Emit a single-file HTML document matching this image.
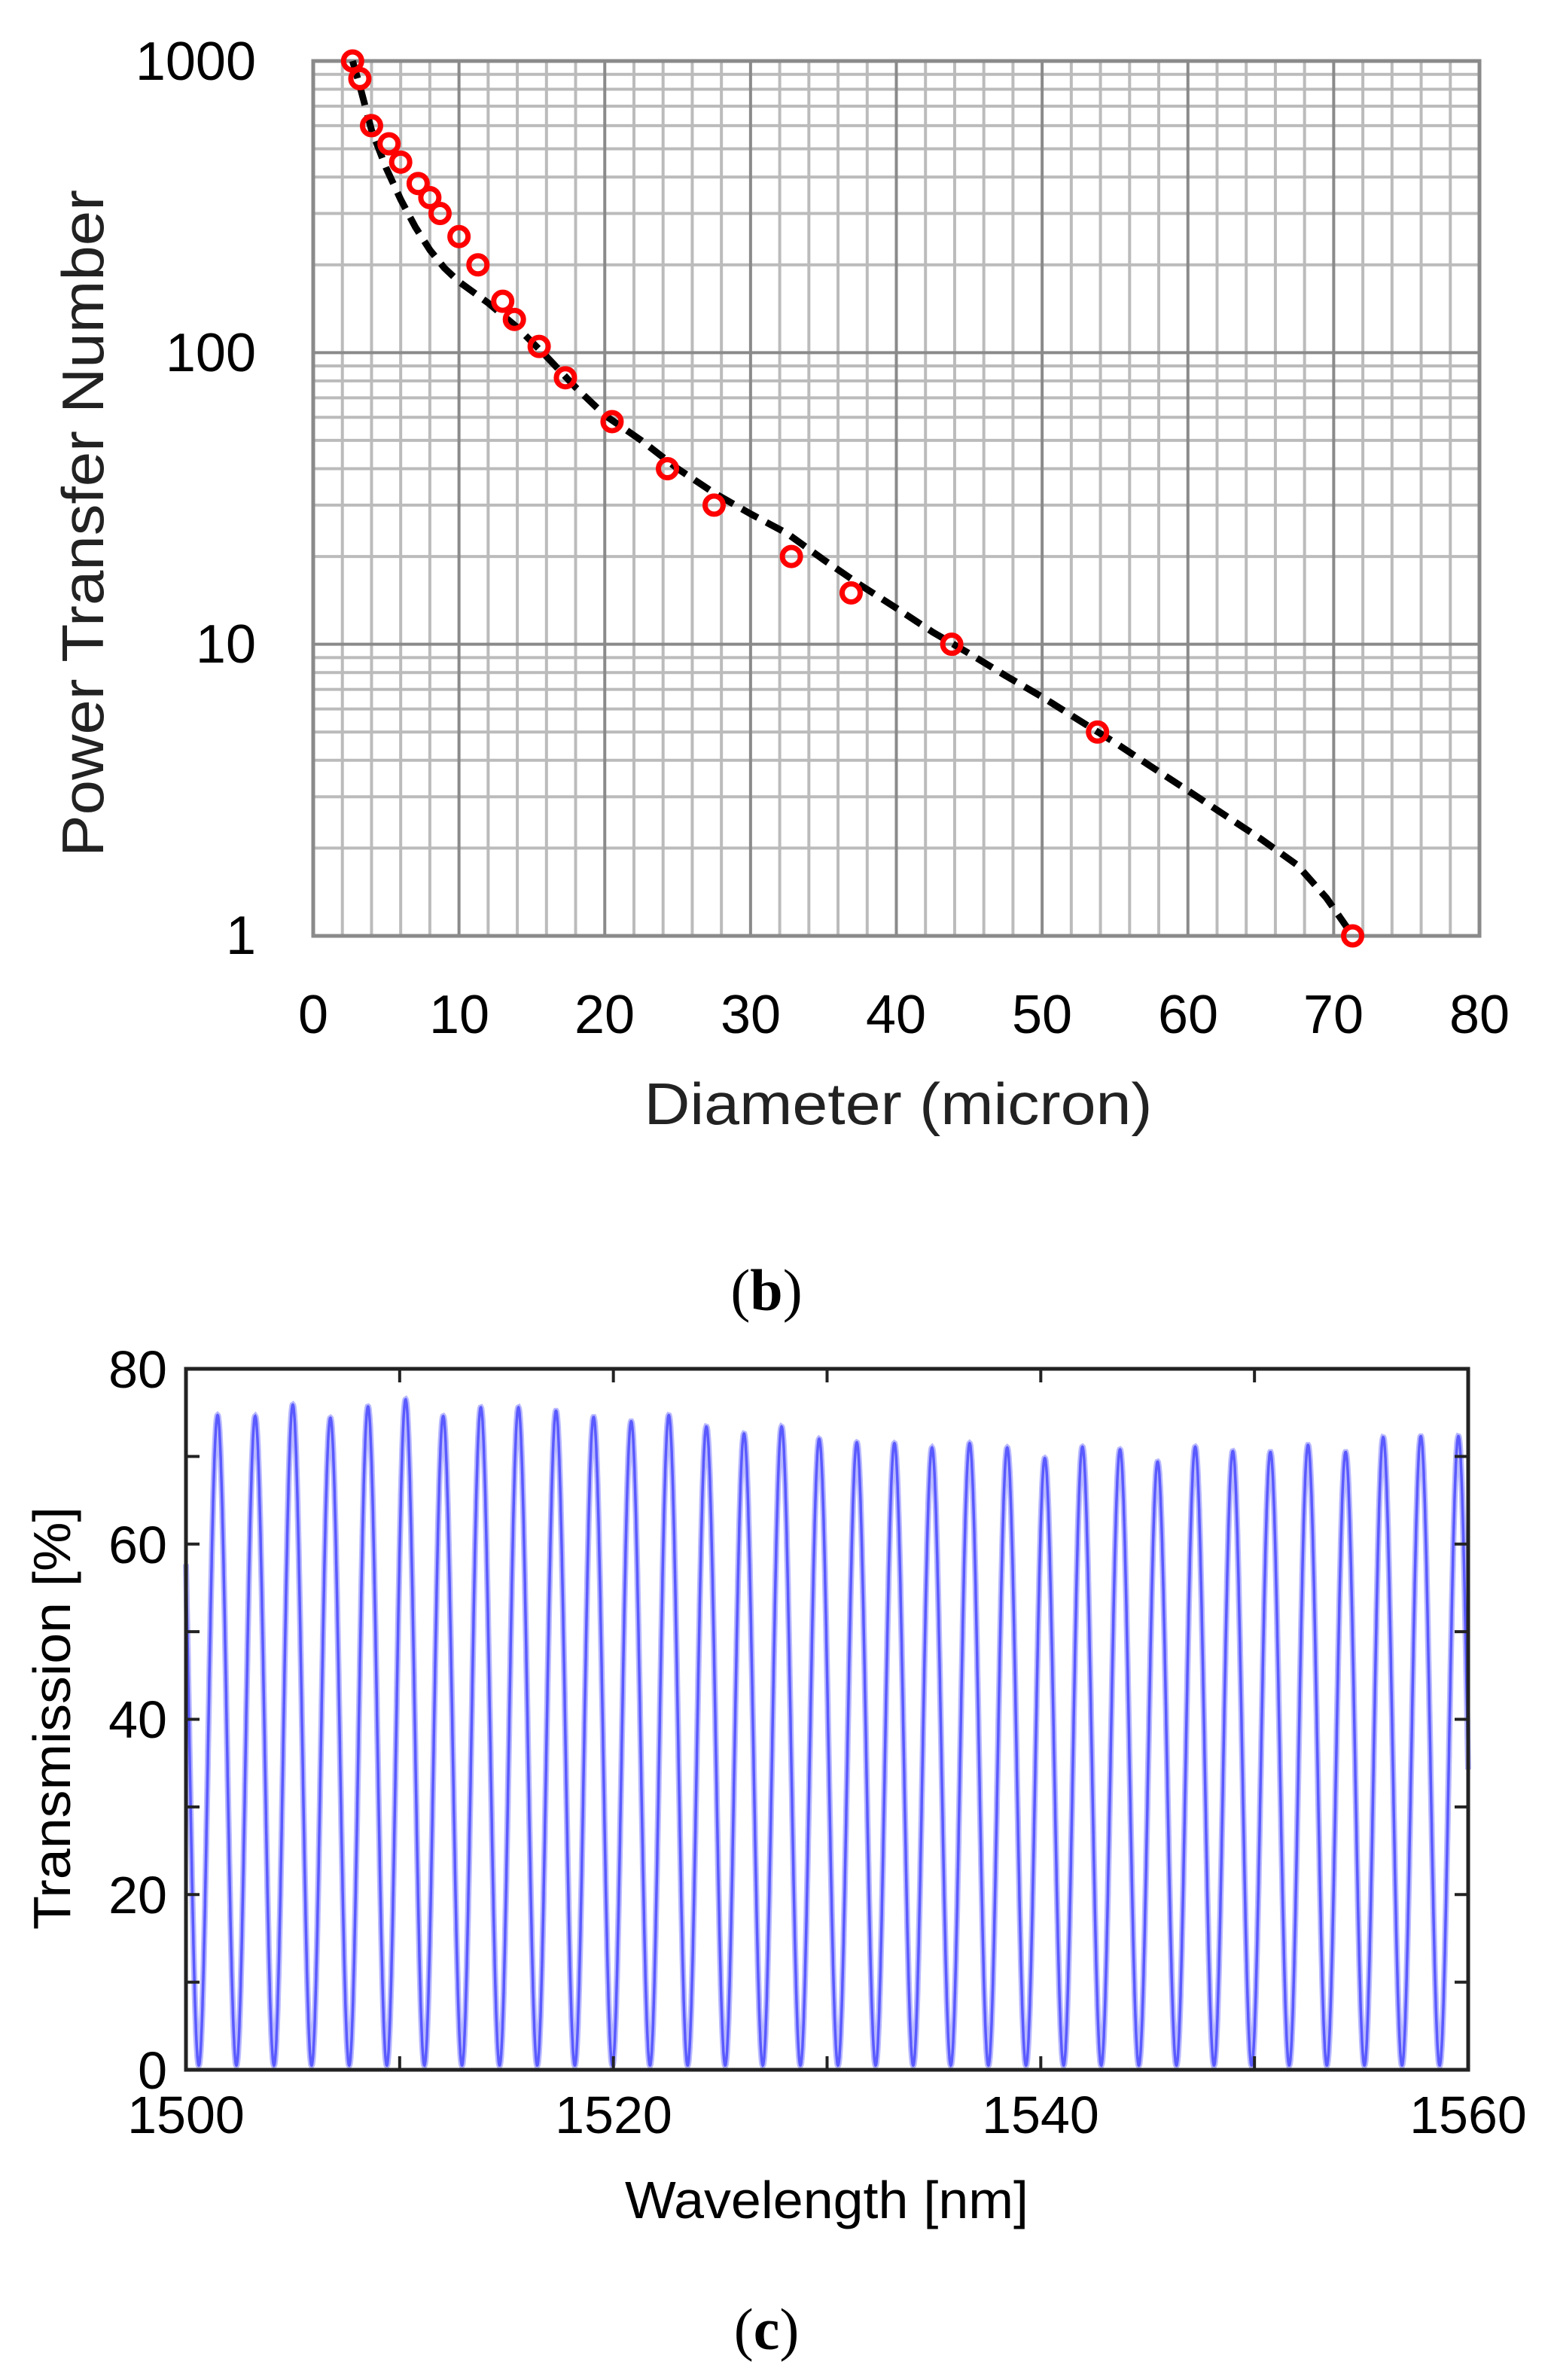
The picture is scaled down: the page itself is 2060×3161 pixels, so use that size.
<!DOCTYPE html>
<html><head><meta charset="utf-8"><style>
html,body{margin:0;padding:0;background:#fff;}
svg{display:block;}
</style></head><body>
<svg id="s" xmlns="http://www.w3.org/2000/svg" width="2060" height="3161" viewBox="0 0 2060 3161">
<rect width="2060" height="3161" fill="#fff"/>
<g id="g1"></g>
<g id="g2"></g>
<g font-family="Liberation Sans, sans-serif" font-size="72" fill="#000">
<text x="340" y="106" text-anchor="end">1000</text>
<text x="340" y="493" text-anchor="end">100</text>
<text x="340" y="880" text-anchor="end">10</text>
<text x="340" y="1267" text-anchor="end">1</text>
<text x="416" y="1372" text-anchor="middle">0</text>
<text x="610" y="1372" text-anchor="middle">10</text>
<text x="803" y="1372" text-anchor="middle">20</text>
<text x="997" y="1372" text-anchor="middle">30</text>
<text x="1190" y="1372" text-anchor="middle">40</text>
<text x="1384" y="1372" text-anchor="middle">50</text>
<text x="1578" y="1372" text-anchor="middle">60</text>
<text x="1771" y="1372" text-anchor="middle">70</text>
<text x="1965" y="1372" text-anchor="middle">80</text>
<text x="1193" y="1493" text-anchor="middle" font-size="78" fill="#222" textLength="675" lengthAdjust="spacingAndGlyphs">Diameter (micron)</text>
<text transform="translate(137,695) rotate(-90)" text-anchor="middle" font-size="78" fill="#222" textLength="886" lengthAdjust="spacingAndGlyphs">Power Transfer Number</text>
</g>
<text x="1018" y="1740" text-anchor="middle" font-family="Liberation Serif, serif" font-size="78" fill="#000">(<tspan font-weight="bold">b</tspan>)</text>
<g font-family="Liberation Sans, sans-serif" font-size="70" fill="#000">
<text x="222" y="1843" text-anchor="end">80</text>
<text x="222" y="2076" text-anchor="end">60</text>
<text x="222" y="2308" text-anchor="end">40</text>
<text x="222" y="2541" text-anchor="end">20</text>
<text x="222" y="2774" text-anchor="end">0</text>
<text x="247" y="2833" text-anchor="middle">1500</text>
<text x="815" y="2833" text-anchor="middle">1520</text>
<text x="1382" y="2833" text-anchor="middle">1540</text>
<text x="1950" y="2833" text-anchor="middle">1560</text>
<text x="1098" y="2946" text-anchor="middle" textLength="536" lengthAdjust="spacingAndGlyphs">Wavelength [nm]</text>
<text transform="translate(93,2282) rotate(-90)" text-anchor="middle" textLength="562" lengthAdjust="spacingAndGlyphs">Transmission [%]</text>
</g>
<text x="1018" y="3120" text-anchor="middle" font-family="Liberation Serif, serif" font-size="78" fill="#000">(<tspan font-weight="bold">c</tspan>)</text>
</svg>
<script>
(function(){
var NS="http://www.w3.org/2000/svg";
function el(p,t,a){var e=document.createElementNS(NS,t);for(var k in a)e.setAttribute(k,a[k]);p.appendChild(e);return e;}
var g1=document.getElementById("g1");
var L=416,R=1965,T=81,B=1243;
function X(d){return L+(R-L)*d/80;}
function Y(p){return B-(B-T)*Math.log10(p)/3;}
var i,k;
for(i=1;i<40;i++){ if(i%5==0) continue; el(g1,"line",{x1:X(i*2),x2:X(i*2),y1:T,y2:B,stroke:"#bbb","stroke-width":4});}
for(k=0;k<3;k++){for(i=2;i<=9;i++){var y=Y(i*Math.pow(10,k));el(g1,"line",{x1:L,x2:R,y1:y,y2:y,stroke:"#bbb","stroke-width":4});}}
for(i=1;i<8;i++){el(g1,"line",{x1:X(i*10),x2:X(i*10),y1:T,y2:B,stroke:"#8a8a8a","stroke-width":4});}
for(k=1;k<3;k++){var y=Y(Math.pow(10,k));el(g1,"line",{x1:L,x2:R,y1:y,y2:y,stroke:"#8a8a8a","stroke-width":4});}
el(g1,"rect",{x:L,y:T,width:R-L,height:B-T,fill:"none",stroke:"#8a8a8a","stroke-width":5});
var curve=[[2.7,1000],[3.2,820],[4,580],[5,430],[6,335],[7,270],[8,225],[9,195],[10,175],[12,148],[14,122],[16,97],[18,76],[20,61],[22.5,50],[25,40],[27.5,33],[30,28],[32.5,24],[35,19.5],[37.5,16],[40,13.3],[42.5,11],[45,9.3],[47.5,7.8],[50,6.6],[52.5,5.5],[55,4.6],[57.5,3.8],[60,3.15],[62.5,2.6],[65,2.15],[67.5,1.75],[69.5,1.35],[71.2,1.02]];
var d="";curve.forEach(function(c,j){d+=(j?"L":"M")+X(c[0]).toFixed(1)+","+Y(c[1]).toFixed(1);});
el(g1,"path",{d:d,fill:"none",stroke:"#000","stroke-width":9,"stroke-dasharray":"24 13","stroke-linejoin":"round"});
var pts=[[2.7,1000],[3.2,870],[4,600],[5.2,520],[6,450],[7.2,380],[8,340],[8.7,300],[10,250],[11.3,200],[13,150],[13.8,130],[15.5,105],[17.3,82],[20.5,58],[24.3,40],[27.5,30],[32.8,20],[36.9,15],[43.8,10],[53.8,5],[71.3,1]];
pts.forEach(function(p){el(g1,"circle",{cx:X(p[0]),cy:Y(p[1]),r:12,fill:"none",stroke:"#f00","stroke-width":7});});
var g2=document.getElementById("g2");
var L2=247,R2=1950,T2=1818,B2=2749;
function X2(w){return L2+(R2-L2)*(w-1500)/60;}
function Y2(t){return B2-(B2-T2)*t/80;}
var peaks=[74.7,74.6,75.9,74.4,75.7,76.5,74.6,75.6,75.6,75.2,74.5,74.0,74.7,73.4,72.6,73.4,72.0,71.6,71.5,71.0,71.5,71.0,69.8,71.1,70.8,69.4,71.1,70.6,70.5,71.3,70.5,72.2,72.3,72.3];
var p0=1501.48,per=1.7595;
var d2="";
for(var w=1500;w<=1560;w+=0.01){
 var ph=(w-p0)/per; var n=Math.round(ph); n=Math.max(0,Math.min(peaks.length-1,n));
 var A=peaks[n];
 var t=0.5+(A-0.5)*(1+Math.cos(2*Math.PI*ph))/2;
 d2+=(w==1500?"M":"L")+X2(w).toFixed(1)+","+Y2(t).toFixed(1);
}
el(g2,"path",{d:d2,fill:"none",stroke:"#b8b8ff","stroke-width":8});
el(g2,"path",{d:d2,fill:"none",stroke:"#5a5aff","stroke-width":3.5});
for(i=1;i<6;i++){var x=X2(1500+i*10);el(g2,"line",{x1:x,x2:x,y1:B2,y2:B2-18,stroke:"#222","stroke-width":4});el(g2,"line",{x1:x,x2:x,y1:T2,y2:T2+18,stroke:"#222","stroke-width":4});}
for(i=1;i<8;i++){var y=Y2(i*10);el(g2,"line",{x1:L2,x2:L2+18,y1:y,y2:y,stroke:"#222","stroke-width":4});el(g2,"line",{x1:R2,x2:R2-18,y1:y,y2:y,stroke:"#222","stroke-width":4});}
el(g2,"rect",{x:L2,y:T2,width:R2-L2,height:B2-T2,fill:"none",stroke:"#222","stroke-width":5});
})();
</script>
</body></html>
